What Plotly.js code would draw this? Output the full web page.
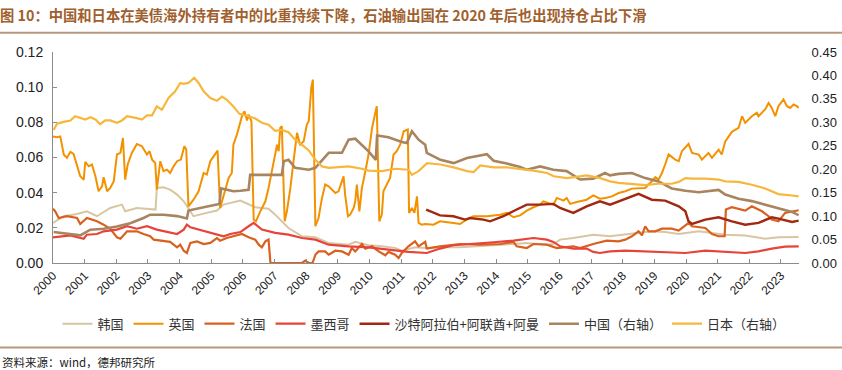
<!DOCTYPE html>
<html><head><meta charset="utf-8">
<script src="https://cdn.plot.ly/plotly-3.0.1.min.js"></script>
<style>body{margin:0;background:#fff}#c{width:842px;height:370px}</style>
</head><body><div id="c"></div>
<script>
const seriesNames = ["韩国","英国","法国","墨西哥","沙特阿拉伯+阿联酋+阿曼","中国（右轴）","日本（右轴）"];
const yearTicks = [2000,2001,2002,2003,2004,2005,2006,2007,2008,2009,2010,2011,2012,2013,2014,2015,2016,2017,2018,2019,2020,2021,2022,2023];

const koreaX = [2000.0,2000.34,2000.76,2001.07,2001.39,2001.81,2002.18,2002.28,2002.65,2003.07,2003.24,2003.28,2003.49,2003.7,2003.92,2004.13,2004.28,2004.44,2004.86,2005.18,2005.39,2005.92,2006.39,2006.81,2007.02,2007.44,2007.87,2008.29,2008.71,2009.34,2009.55,2009.97,2010.39,2010.81,2011.02,2011.44,2011.76,2012.23,2012.86,2013.49,2014.13,2014.55,2014.97,2015.6,2015.81,2016.02,2016.44,2016.86,2017.07,2017.6,2018.08,2018.5,2018.92,2019.34,2019.77,2020.4,2020.82,2021.24,2021.87,2022.29,2022.5,2022.92,2023.56];
const koreaY = [0.0228,0.0266,0.0279,0.0294,0.0266,0.0313,0.0332,0.0294,0.0313,0.0309,0.0304,0.0427,0.0431,0.0417,0.0389,0.0351,0.0313,0.0266,0.0285,0.0298,0.0332,0.0355,0.0317,0.0309,0.0275,0.0199,0.0152,0.0146,0.0114,0.0104,0.012,0.0101,0.0095,0.0085,0.007,0.0089,0.0085,0.0089,0.0089,0.0095,0.0101,0.0108,0.0114,0.0104,0.0108,0.0133,0.0142,0.0157,0.0161,0.0152,0.0161,0.0171,0.018,0.0176,0.0165,0.018,0.0171,0.0161,0.0157,0.0146,0.0138,0.0146,0.0148];

const ukX = [2000.0,2000.13,2000.23,2000.34,2000.44,2000.55,2000.65,2000.76,2000.86,2000.97,2001.02,2001.13,2001.23,2001.34,2001.44,2001.55,2001.6,2001.71,2001.81,2001.92,2002.02,2002.13,2002.21,2002.28,2002.36,2002.49,2002.65,2002.81,2002.97,2003.05,2003.13,2003.23,2003.28,2003.39,2003.49,2003.6,2003.7,2003.81,2003.92,2004.04,2004.15,2004.21,2004.28,2004.44,2004.6,2004.76,2004.86,2004.97,2005.13,2005.2,2005.28,2005.39,2005.55,2005.65,2005.7,2005.81,2005.89,2005.97,2006.05,2006.13,2006.18,2006.27,2006.34,2006.41,2006.55,2006.71,2006.81,2006.92,2007.02,2007.08,2007.13,2007.18,2007.23,2007.32,2007.39,2007.5,2007.6,2007.71,2007.81,2007.92,2008.02,2008.08,2008.16,2008.21,2008.29,2008.39,2008.5,2008.6,2008.71,2008.81,2008.92,2009.02,2009.13,2009.18,2009.23,2009.32,2009.39,2009.5,2009.55,2009.6,2009.68,2009.76,2009.87,2009.97,2010.08,2010.16,2010.23,2010.31,2010.39,2010.44,2010.55,2010.65,2010.76,2010.86,2010.97,2011.08,2011.21,2011.25,2011.34,2011.42,2011.5,2011.55,2011.65,2011.76,2012.02,2012.23,2012.65,2012.86,2013.07,2013.28,2013.71,2014.13,2014.34,2014.55,2014.76,2014.97,2015.18,2015.39,2015.49,2015.81,2015.92,2016.13,2016.23,2016.34,2016.55,2016.86,2017.07,2017.28,2017.45,2017.66,2017.87,2018.08,2018.29,2018.5,2018.71,2018.92,2019.03,2019.13,2019.24,2019.34,2019.45,2019.66,2019.77,2019.87,2020.08,2020.19,2020.4,2020.5,2020.71,2020.82,2021.03,2021.13,2021.24,2021.45,2021.66,2021.77,2021.87,2022.08,2022.24,2022.29,2022.5,2022.61,2022.71,2022.82,2022.92,2023.08,2023.19,2023.29,2023.4,2023.5,2023.56];
const ukY = [0.072,0.0715,0.072,0.0617,0.0598,0.0632,0.062,0.056,0.0493,0.0474,0.0575,0.055,0.056,0.0493,0.0408,0.0436,0.0488,0.0408,0.0427,0.0465,0.0617,0.0626,0.0711,0.0474,0.056,0.0626,0.0677,0.0664,0.0617,0.0636,0.0588,0.0569,0.0417,0.0579,0.0522,0.0531,0.0512,0.055,0.0579,0.0588,0.0664,0.0645,0.0322,0.036,0.0408,0.0512,0.0503,0.0579,0.0617,0.0639,0.0313,0.0389,0.0484,0.0512,0.0673,0.073,0.0778,0.0835,0.0863,0.081,0.0844,0.0806,0.0247,0.0237,0.0294,0.0351,0.0427,0.0522,0.0617,0.0673,0.0636,0.0768,0.0778,0.0237,0.0294,0.0427,0.0579,0.074,0.0673,0.0692,0.0787,0.0806,0.0996,0.1043,0.0209,0.0256,0.037,0.0446,0.0436,0.0417,0.0398,0.0408,0.0465,0.0493,0.0389,0.0266,0.0275,0.0313,0.0351,0.0446,0.0294,0.0427,0.0522,0.0617,0.0768,0.0844,0.0892,0.0237,0.0275,0.0408,0.0446,0.0484,0.0617,0.0636,0.0673,0.0749,0.0759,0.0285,0.0313,0.0285,0.0379,0.0228,0.0218,0.0222,0.0218,0.0237,0.0228,0.0222,0.0247,0.0266,0.0266,0.0275,0.0285,0.026,0.0271,0.0298,0.0317,0.0332,0.0351,0.0332,0.037,0.0355,0.037,0.0336,0.0347,0.036,0.0385,0.0366,0.037,0.0379,0.0398,0.0408,0.0423,0.0423,0.0427,0.0465,0.0488,0.0474,0.0512,0.056,0.0617,0.0588,0.0579,0.0636,0.0677,0.0626,0.0617,0.0588,0.0626,0.0598,0.0645,0.0617,0.0692,0.0746,0.0768,0.0835,0.0797,0.0835,0.0854,0.0835,0.0873,0.091,0.0882,0.0835,0.0892,0.093,0.0892,0.0882,0.0901,0.0892,0.0882];

const franceX = [2000.0,2000.07,2000.18,2000.44,2000.76,2000.86,2001.07,2001.39,2001.6,2001.81,2002.02,2002.13,2002.34,2002.65,2002.86,2003.07,2003.18,2003.49,2003.7,2003.92,2004.02,2004.13,2004.23,2004.34,2004.55,2004.76,2004.97,2005.18,2005.28,2005.49,2005.76,2005.97,2006.18,2006.39,2006.5,2006.6,2006.71,2006.81,2006.87,2007.87,2007.97,2008.08,2008.2,2008.29,2008.39,2008.6,2008.71,2008.92,2009.13,2009.34,2009.44,2009.55,2009.76,2009.87,2010.08,2010.29,2010.5,2010.6,2010.81,2010.92,2011.02,2011.23,2011.44,2011.55,2011.76,2011.81,2012.23,2012.86,2013.49,2014.13,2014.55,2014.65,2014.97,2015.18,2015.6,2015.92,2016.44,2016.65,2017.07,2017.49,2017.87,2018.08,2018.29,2018.5,2018.61,2018.71,2018.82,2019.03,2019.24,2019.55,2019.77,2020.08,2020.19,2020.61,2020.82,2021.03,2021.22,2021.26,2021.45,2021.87,2022.08,2022.4,2022.61,2022.71,2022.92,2023.13,2023.56];
const franceY = [0.0309,0.0294,0.0256,0.0266,0.0256,0.0222,0.0256,0.0237,0.0218,0.0195,0.0146,0.0138,0.018,0.018,0.0165,0.0152,0.0133,0.0123,0.012,0.0089,0.0104,0.007,0.0057,0.0114,0.0123,0.0108,0.0114,0.0142,0.0127,0.0142,0.0157,0.0165,0.0146,0.0133,0.0104,0.0089,0.0123,0.0133,0,0,0.0013,0,0,0.0047,0.0066,0.0066,0.0047,0.007,0.0066,0.0047,0.0085,0.0066,0.0108,0.0082,0.0095,0.0066,0.0044,0.0063,0.0047,0.0028,0.0057,0.0095,0.0123,0.0095,0.012,0.0082,0.0095,0.0108,0.0104,0.0108,0.012,0.0095,0.0085,0.0108,0.0104,0.0085,0.0095,0.0085,0.0108,0.0127,0.0123,0.0133,0.0152,0.018,0.0157,0.0209,0.018,0.018,0.0195,0.0195,0.0184,0.0228,0.0209,0.0199,0.0165,0.0152,0.0152,0.0304,0.0317,0.0298,0.0322,0.0294,0.0266,0.0247,0.0237,0.0285,0.03];

const mexicoX = [2000.0,2000.34,2000.55,2000.97,2001.07,2001.39,2001.6,2002.02,2002.34,2002.65,2002.97,2003.28,2003.7,2003.92,2004.13,2004.23,2004.34,2004.76,2005.18,2005.39,2005.6,2005.92,2006.18,2006.34,2006.6,2007.02,2007.44,2007.87,2008.29,2008.71,2009.34,2009.97,2010.6,2011.23,2011.81,2012.23,2012.65,2013.28,2013.92,2014.55,2015.18,2015.6,2015.81,2016.02,2016.44,2016.86,2017.07,2017.28,2017.6,2018.08,2018.92,2019.98,2020.61,2021.45,2021.87,2022.29,2022.71,2023.13,2023.56];
const mexicoY = [0.0146,0.0152,0.0157,0.0138,0.0161,0.0165,0.018,0.019,0.0209,0.0195,0.0209,0.019,0.0171,0.0165,0.019,0.0218,0.0203,0.0184,0.0161,0.0152,0.0165,0.0176,0.0209,0.0228,0.019,0.0171,0.0161,0.0142,0.0133,0.0104,0.0095,0.0089,0.0076,0.0063,0.0057,0.0082,0.0101,0.0108,0.0118,0.0127,0.0142,0.0133,0.012,0.0095,0.0082,0.0082,0.0063,0.0057,0.0066,0.007,0.0063,0.0057,0.007,0.0063,0.0057,0.0066,0.0082,0.0093,0.0095];

const saudiX = [2011.79,2012.02,2012.23,2012.65,2013.02,2013.18,2013.6,2013.81,2014.23,2014.65,2014.97,2015.39,2015.81,2016.02,2016.44,2016.86,2017.28,2017.6,2017.87,2018.29,2018.5,2018.92,2019.34,2019.77,2019.98,2020.08,2020.19,2020.61,2021.03,2021.45,2021.87,2022.29,2022.71,2022.92,2023.35,2023.56];
const saudiY = [0.0304,0.0285,0.0271,0.0266,0.0247,0.0256,0.0247,0.0237,0.0266,0.0304,0.0332,0.0332,0.0336,0.0313,0.0285,0.0322,0.0351,0.0332,0.0351,0.0379,0.0393,0.036,0.0355,0.0322,0.0294,0.0237,0.0222,0.0247,0.026,0.0237,0.0218,0.0228,0.026,0.0252,0.0233,0.0241];

const chinaX = [2000.02,2000.44,2000.86,2001.18,2001.6,2002.02,2002.44,2002.86,2003.07,2003.49,2003.92,2004.23,2004.28,2004.76,2005.18,2005.26,2005.31,2005.7,2005.92,2006.18,2006.23,2006.81,2007.23,2007.29,2007.44,2007.65,2008.08,2008.29,2008.71,2009.13,2009.34,2009.55,2009.97,2010.2,2010.24,2010.6,2011.02,2011.18,2011.34,2011.55,2011.76,2011.81,2012.24,2012.66,2013.08,2013.71,2013.92,2014.34,2014.76,2014.97,2015.39,2015.81,2016.23,2016.65,2017.07,2017.44,2017.6,2017.87,2018.29,2018.71,2019.13,2019.55,2019.98,2020.4,2021.03,2021.24,2021.66,2022.08,2022.5,2022.92,2023.35,2023.56];
const chinaY = [0.066,0.062,0.059,0.071,0.073,0.078,0.085,0.096,0.103,0.103,0.100,0.095,0.112,0.119,0.124,0.126,0.159,0.153,0.154,0.156,0.188,0.188,0.188,0.217,0.220,0.203,0.199,0.203,0.235,0.235,0.263,0.265,0.238,0.220,0.272,0.268,0.258,0.256,0.281,0.263,0.252,0.235,0.220,0.213,0.224,0.232,0.218,0.212,0.205,0.199,0.206,0.199,0.196,0.178,0.180,0.192,0.187,0.190,0.192,0.181,0.174,0.159,0.154,0.151,0.156,0.146,0.137,0.132,0.124,0.117,0.109,0.102];

const japanX = [2000.02,2000.13,2000.34,2000.55,2000.7,2000.86,2001.02,2001.18,2001.34,2001.49,2001.65,2001.81,2002.02,2002.18,2002.34,2002.65,2002.81,2002.97,2003.13,2003.28,2003.44,2003.65,2003.86,2004.02,2004.13,2004.28,2004.46,2004.6,2004.76,2004.97,2005.18,2005.34,2005.49,2005.7,2005.89,2006.18,2006.39,2006.6,2006.81,2007.02,2007.23,2007.44,2007.65,2007.87,2008.08,2008.29,2008.5,2008.71,2008.92,2009.34,2009.76,2009.97,2010.39,2010.81,2011.23,2011.34,2011.55,2011.82,2012.24,2012.66,2013.08,2013.29,2013.5,2013.92,2014.34,2014.76,2015.18,2015.61,2015.82,2016.24,2016.87,2017.29,2017.6,2017.87,2018.29,2018.71,2019.13,2019.55,2019.77,2019.98,2020.19,2020.61,2021.03,2021.24,2021.66,2022.08,2022.5,2022.92,2023.35,2023.56];
const japanY = [0.284,0.297,0.301,0.304,0.313,0.309,0.306,0.311,0.306,0.296,0.304,0.304,0.299,0.304,0.313,0.309,0.306,0.315,0.315,0.334,0.327,0.352,0.366,0.384,0.382,0.384,0.395,0.384,0.366,0.352,0.346,0.355,0.348,0.334,0.318,0.313,0.308,0.299,0.295,0.282,0.284,0.279,0.263,0.252,0.240,0.220,0.206,0.203,0.204,0.206,0.201,0.197,0.196,0.201,0.199,0.188,0.196,0.213,0.210,0.204,0.196,0.194,0.208,0.204,0.204,0.201,0.197,0.192,0.185,0.181,0.187,0.181,0.174,0.171,0.169,0.166,0.169,0.169,0.173,0.181,0.180,0.180,0.178,0.174,0.173,0.167,0.159,0.147,0.144,0.142];

const colors = ["#D8C6A2","#F39200","#D9601E","#E8433A","#A2290F","#A8845F","#F7B73C"];
const widths = [2,2,2.2,2.2,2.4,2.6,2.2];
const xs = [koreaX,ukX,franceX,mexicoX,saudiX,chinaX,japanX];
const ys = [koreaY,ukY,franceY,mexicoY,saudiY,chinaY,japanY];

const traces = seriesNames.map((n,i)=>({
  type:'scatter', mode:'lines', name:n, x:xs[i], y:ys[i],
  yaxis: i>=5 ? 'y2' : 'y',
  line:{color:colors[i], width:widths[i]}
}));

const lineCol = '#B8987C';
const layout = {
  width:842, height:370,
  margin:{l:53, r:43, t:52, b:107, autoexpand:false},
  paper_bgcolor:'#fff', plot_bgcolor:'#fff',
  font:{family:'Liberation Sans, Arial, sans-serif', size:13, color:'#333'},
  title:{text:'图 10：中国和日本在美债海外持有者中的比重持续下降，石油输出国在 2020 年后也出现持仓占比下滑',
    x:0, xref:'container', xanchor:'left', y:0.957, yref:'container', yanchor:'middle',
    font:{family:'Noto Sans CJK SC, sans-serif', size:14.3, color:'#A0602D', weight:'bold'}},
  showlegend:true,
  legend:{orientation:'h', x:0.006, xanchor:'left', y:-0.288, yanchor:'middle',
    font:{family:'Noto Sans CJK SC, sans-serif', size:13, color:'#333'}, bgcolor:'rgba(0,0,0,0)'},
  xaxis:{range:[2000,2023.57], tickvals:yearTicks, ticktext:yearTicks.map(String), tickangle:-45,
    showgrid:false, zeroline:false, showline:true, linecolor:'#8C8C8C', linewidth:1,
    ticks:'inside', ticklen:4, tickcolor:'#8C8C8C', tickfont:{size:12, color:'#222'}},
  yaxis:{range:[0,0.12], dtick:0.02, tickformat:'.2f', showgrid:false, zeroline:false,
    showline:true, linecolor:'#8C8C8C', ticks:'inside', ticklen:4, tickcolor:'#8C8C8C',
    ticklabelstandoff:6, tickfont:{size:14, color:'#222'}},
  yaxis2:{range:[0,0.45], dtick:0.05, tickformat:'.2f', overlaying:'y', side:'right',
    showgrid:false, zeroline:false, showline:false, ticks:'outside', ticklen:9, tickcolor:'rgba(0,0,0,0)',
    tickfont:{size:13, color:'#222'}},
  shapes:[
    {type:'line', xref:'paper', yref:'paper', x0:-0.075, x1:1.06, y0:1.0915, y1:1.0915, line:{color:lineCol, width:2}},
    {type:'line', xref:'paper', yref:'paper', x0:-0.075, x1:1.06, y0:-0.401, y1:-0.401, line:{color:lineCol, width:2}}
  ],
  annotations:[
    {text:'资料来源：wind，德邦研究所', xref:'paper', yref:'paper', x:-0.071, y:-0.468, xanchor:'left', yanchor:'middle',
     showarrow:false, font:{family:'Noto Sans CJK SC, sans-serif', size:11.5, color:'#222'}}
  ]
};
Plotly.newPlot('c', traces, layout, {staticPlot:true, displayModeBar:false});
</script></body></html>
